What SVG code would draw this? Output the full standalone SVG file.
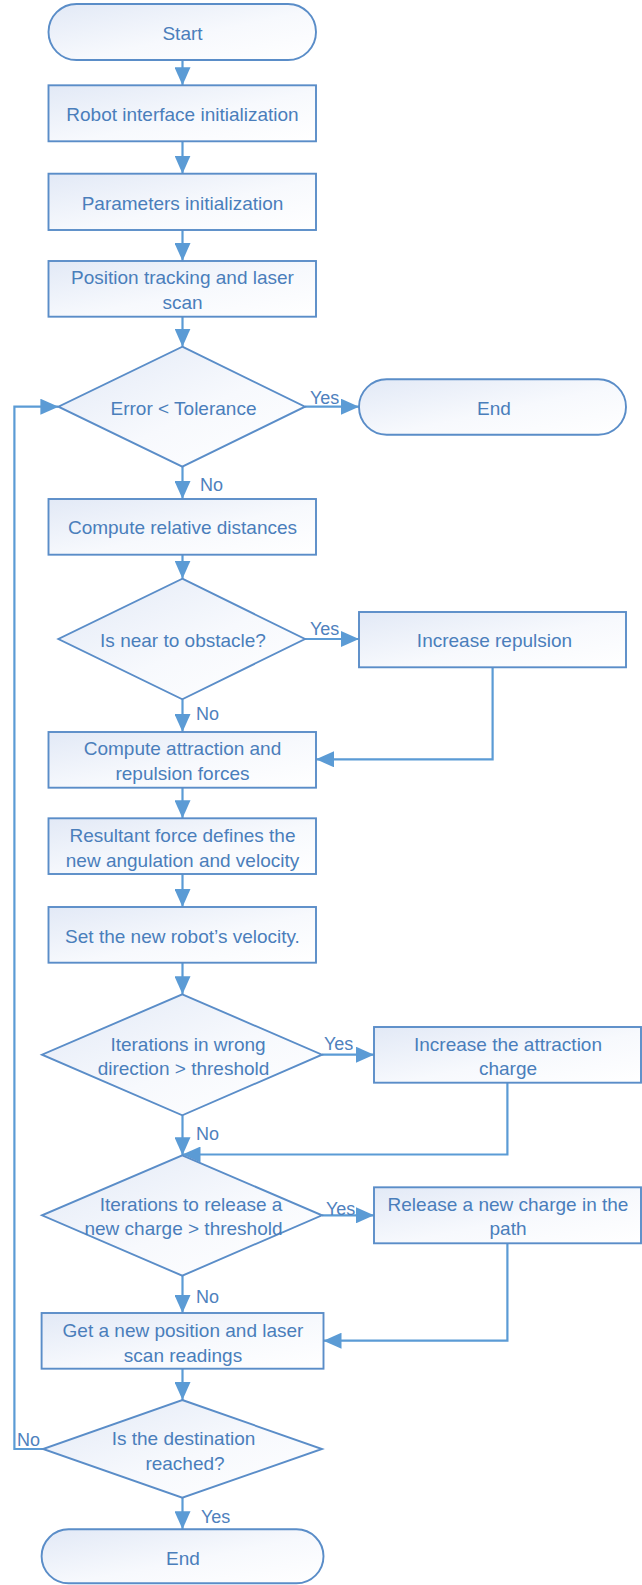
<svg xmlns="http://www.w3.org/2000/svg" width="642" height="1585" viewBox="0 0 642 1585">
<defs>
<linearGradient id="fillg" x1="0" y1="0" x2="1" y2="1">
<stop offset="0" stop-color="#E2E9F6"/>
<stop offset="0.55" stop-color="#F7F9FD"/>
<stop offset="1" stop-color="#FFFFFF"/>
</linearGradient>
<marker id="arr" markerUnits="userSpaceOnUse" markerWidth="18" markerHeight="16" refX="18" refY="8" orient="auto">
<path d="M0,0 L18,8 L0,16 z" fill="#5B9BD5"/>
</marker>
<style>
.shape{fill:url(#fillg);stroke:#5A8DC8;stroke-width:1.9}
.t{font-family:"Liberation Sans",Arial,sans-serif;font-size:19px;fill:#4A7EBB;text-anchor:middle}
.lbl{font-family:"Liberation Sans",Arial,sans-serif;font-size:18px;fill:#4F81BD}
.c{fill:none;stroke:#5B9BD5;stroke-width:2.2;marker-end:url(#arr)}
</style>
</defs>

<g id="connectors">
<line class="c" x1="182.5" y1="60" x2="182.5" y2="85.3"/>
<line class="c" x1="182.5" y1="141.3" x2="182.5" y2="173.7"/>
<line class="c" x1="182.5" y1="230" x2="182.5" y2="261"/>
<line class="c" x1="182.5" y1="316.7" x2="182.5" y2="346.7"/>
<line class="c" x1="305" y1="406.7" x2="359" y2="406.7"/>
<line class="c" x1="182.5" y1="466.7" x2="182.5" y2="499"/>
<line class="c" x1="182.5" y1="554.7" x2="182.5" y2="578.7"/>
<line class="c" x1="305" y1="639" x2="359" y2="639"/>
<line class="c" x1="182.5" y1="699.3" x2="182.5" y2="732"/>
<polyline class="c" points="492.6,667.3 492.6,759.3 316,759.3"/>
<line class="c" x1="182.5" y1="787.7" x2="182.5" y2="818.3"/>
<line class="c" x1="182.5" y1="874" x2="182.5" y2="907"/>
<line class="c" x1="182.5" y1="962.7" x2="182.5" y2="994.3"/>
<line class="c" x1="322" y1="1054.7" x2="374" y2="1054.7"/>
<line class="c" x1="182.5" y1="1115.3" x2="182.5" y2="1155.3"/>
<polyline class="c" points="507.4,1082.7 507.4,1154.5 182.5,1154.5"/>
<line class="c" x1="322" y1="1215.3" x2="374" y2="1215.3"/>
<line class="c" x1="182.5" y1="1275.7" x2="182.5" y2="1313"/>
<polyline class="c" points="507.4,1243.3 507.4,1340.7 323.5,1340.7"/>
<line class="c" x1="182.5" y1="1368.7" x2="182.5" y2="1400"/>
<line class="c" x1="182.5" y1="1497.7" x2="182.5" y2="1529.3"/>
<polyline class="c" points="43,1449 14.4,1449 14.4,406.7 58.4,406.7"/>
<text class="lbl" x="310" y="404">Yes</text>
<text class="lbl" x="200" y="490.5">No</text>
<text class="lbl" x="310" y="635">Yes</text>
<text class="lbl" x="196" y="720">No</text>
<text class="lbl" x="324" y="1050">Yes</text>
<text class="lbl" x="196" y="1140">No</text>
<text class="lbl" x="326" y="1215">Yes</text>
<text class="lbl" x="196" y="1303">No</text>
<text class="lbl" x="17" y="1446">No</text>
<text class="lbl" x="201" y="1523">Yes</text>
</g>

<g id="start">
<rect class="shape" x="48.5" y="4" width="267.5" height="56" rx="28" ry="28"/>
<text class="t" x="182.5" y="40">Start</text>
</g>
<g id="robot-init">
<rect class="shape" x="48.5" y="85.3" width="267.5" height="56"/>
<text class="t" x="182.5" y="121">Robot interface initialization</text>
</g>
<g id="params-init">
<rect class="shape" x="48.5" y="173.7" width="267.5" height="56.3"/>
<text class="t" x="182.5" y="209.5">Parameters initialization</text>
</g>
<g id="position-tracking">
<rect class="shape" x="48.5" y="261" width="267.5" height="55.7"/>
<text class="t" x="182.5" y="284">Position tracking and laser</text>
<text class="t" x="182.5" y="309">scan</text>
</g>
<g id="error-tol">
<polygon class="shape" points="182.3,346.7 305,406.7 182.3,466.7 58.4,406.7"/>
<text class="t" x="183.5" y="415">Error &lt; Tolerance</text>
</g>
<g id="end1">
<rect class="shape" x="359" y="379.3" width="267" height="55.4" rx="27.7" ry="27.7"/>
<text class="t" x="494" y="414.5">End</text>
</g>
<g id="rel-dist">
<rect class="shape" x="48.5" y="499" width="267.5" height="55.7"/>
<text class="t" x="182.5" y="534">Compute relative distances</text>
</g>
<g id="near-obstacle">
<polygon class="shape" points="182.3,578.7 305,639 182.3,699.3 58.4,639"/>
<text class="t" x="183" y="646.5">Is near to obstacle?</text>
</g>
<g id="inc-repulsion">
<rect class="shape" x="359" y="612" width="267" height="55.3"/>
<text class="t" x="494.5" y="647">Increase repulsion</text>
</g>
<g id="forces">
<rect class="shape" x="48.5" y="732" width="267.5" height="55.7"/>
<text class="t" x="182.5" y="754.5">Compute attraction and</text>
<text class="t" x="182.5" y="779.5">repulsion forces</text>
</g>
<g id="resultant">
<rect class="shape" x="48.5" y="818.3" width="267.5" height="55.7"/>
<text class="t" x="182.5" y="841.5">Resultant force defines the</text>
<text class="t" x="182.5" y="866.5">new angulation and velocity</text>
</g>
<g id="set-velocity">
<rect class="shape" x="48.5" y="907" width="267.5" height="55.7"/>
<text class="t" x="182.5" y="942.5">Set the new robot’s velocity.</text>
</g>
<g id="wrong-dir">
<polygon class="shape" points="182.3,994.3 322,1054.7 182.3,1115.3 42,1054.7"/>
<text class="t" x="188" y="1051">Iterations in wrong</text>
<text class="t" x="183.5" y="1075">direction &gt; threshold</text>
</g>
<g id="inc-attraction">
<rect class="shape" x="374" y="1027" width="267" height="55.7"/>
<text class="t" x="508" y="1051">Increase the attraction</text>
<text class="t" x="508" y="1075">charge</text>
</g>
<g id="release-iter">
<polygon class="shape" points="182.3,1155.3 322,1215.3 182.3,1275.7 42,1215.3"/>
<text class="t" x="191" y="1211">Iterations to release a</text>
<text class="t" x="183.5" y="1235">new charge &gt; threshold</text>
</g>
<g id="release-charge">
<rect class="shape" x="374" y="1187.3" width="267" height="56"/>
<text class="t" x="508" y="1211">Release a new charge in the</text>
<text class="t" x="508" y="1235">path</text>
</g>
<g id="new-position">
<rect class="shape" x="41.6" y="1313" width="281.9" height="55.7"/>
<text class="t" x="183" y="1337">Get a new position and laser</text>
<text class="t" x="183" y="1361.5">scan readings</text>
</g>
<g id="destination">
<polygon class="shape" points="182.3,1400 322,1449 182.3,1497.7 43,1449"/>
<text class="t" x="183.5" y="1445">Is the destination</text>
<text class="t" x="185" y="1470">reached?</text>
</g>
<g id="end2">
<rect class="shape" x="41.6" y="1529.3" width="281.9" height="54" rx="27" ry="27"/>
<text class="t" x="183" y="1565">End</text>
</g>
</svg>
